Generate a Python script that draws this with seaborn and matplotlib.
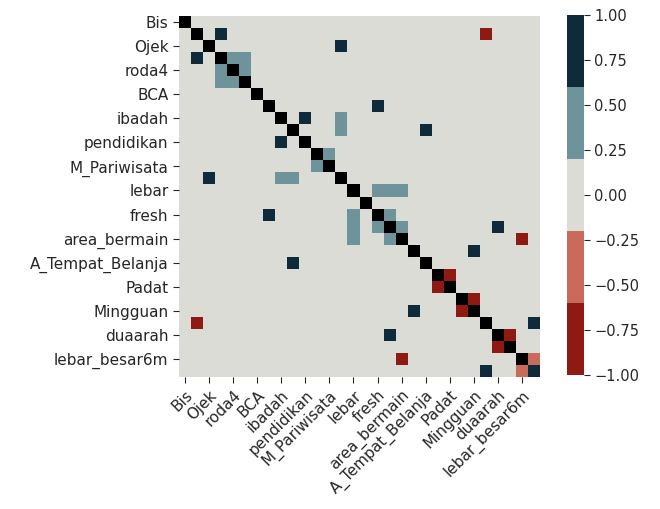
import numpy as np
import pandas as pd
import matplotlib
matplotlib.use("Agg")
import matplotlib.pyplot as plt
from matplotlib.colors import ListedColormap
import seaborn as sns

# ---- data ----
tick_labels = ["Bis", "Ojek", "roda4", "BCA", "ibadah", "pendidikan", "M_Pariwisata",
               "lebar", "fresh", "area_bermain", "A_Tempat_Belanja", "Padat",
               "Mingguan", "duaarah", "lebar_besar6m"]
n_vars = 30

strong_pos_pairs = [(1, 3), (2, 13), (7, 16), (8, 10), (9, 20), (17, 26), (19, 24), (25, 29)]
strong_pos_value = 0.70
moderate_pos_pairs = [(3, 4), (3, 5), (4, 5), (8, 13), (9, 13), (11, 12),
                      (14, 16), (14, 17), (14, 18), (16, 17), (17, 18)]
moderate_pos_value = 0.40
strong_neg_pairs = [(1, 25), (18, 28), (21, 22), (23, 24), (26, 27)]
strong_neg_value = -0.80
moderate_neg_pairs = [(28, 29)]
moderate_neg_value = -0.40
last_diag_value = 1.0

palette = ["#8f1a13", "#c96a5b", "#dcdcd6", "#6f939a", "#0f2a3a"]

# ---- build matrix ----
corr = np.zeros((n_vars, n_vars))
for pairs, val in [(strong_pos_pairs, strong_pos_value), (moderate_pos_pairs, moderate_pos_value),
                   (strong_neg_pairs, strong_neg_value), (moderate_neg_pairs, moderate_neg_value)]:
    for i, j in pairs:
        corr[i, j] = val
        corr[j, i] = val
for k in range(n_vars - 1):
    corr[k, k] = np.nan
corr[n_vars - 1, n_vars - 1] = last_diag_value
df = pd.DataFrame(corr)

text_color = "#262626"
fig = plt.figure(figsize=(6.6, 5.09), dpi=100)
ax = fig.add_axes([179 / 660, 132 / 509, 361 / 660, 361 / 509])
cax = fig.add_axes([567 / 660, 134 / 509, 17 / 660, 360 / 509])
ax.set_facecolor("black")

cmap = ListedColormap(palette)
sns.heatmap(df, ax=ax, cbar_ax=cax, cmap=cmap, vmin=-1, vmax=1,
            xticklabels=False, yticklabels=False)

pos = np.arange(0, n_vars, 2) + 0.5
ax.set_xticks(pos)
ax.set_xticklabels(tick_labels, rotation=45, ha="right", rotation_mode="anchor",
                   fontsize=11, color=text_color)
ax.set_yticks(pos)
ax.set_yticklabels(tick_labels, rotation=0, fontsize=11, color=text_color)
ax.tick_params(length=4, color=text_color)

cax.set_yticks([-1, -0.75, -0.5, -0.25, 0, 0.25, 0.5, 0.75, 1])
cax.set_yticklabels(["\u22121.00", "\u22120.75", "\u22120.50", "\u22120.25", "0.00",
                     "0.25", "0.50", "0.75", "1.00"], fontsize=10.5, color=text_color)
cax.tick_params(length=4, color=text_color)

fig.savefig("out.png", dpi=100)
